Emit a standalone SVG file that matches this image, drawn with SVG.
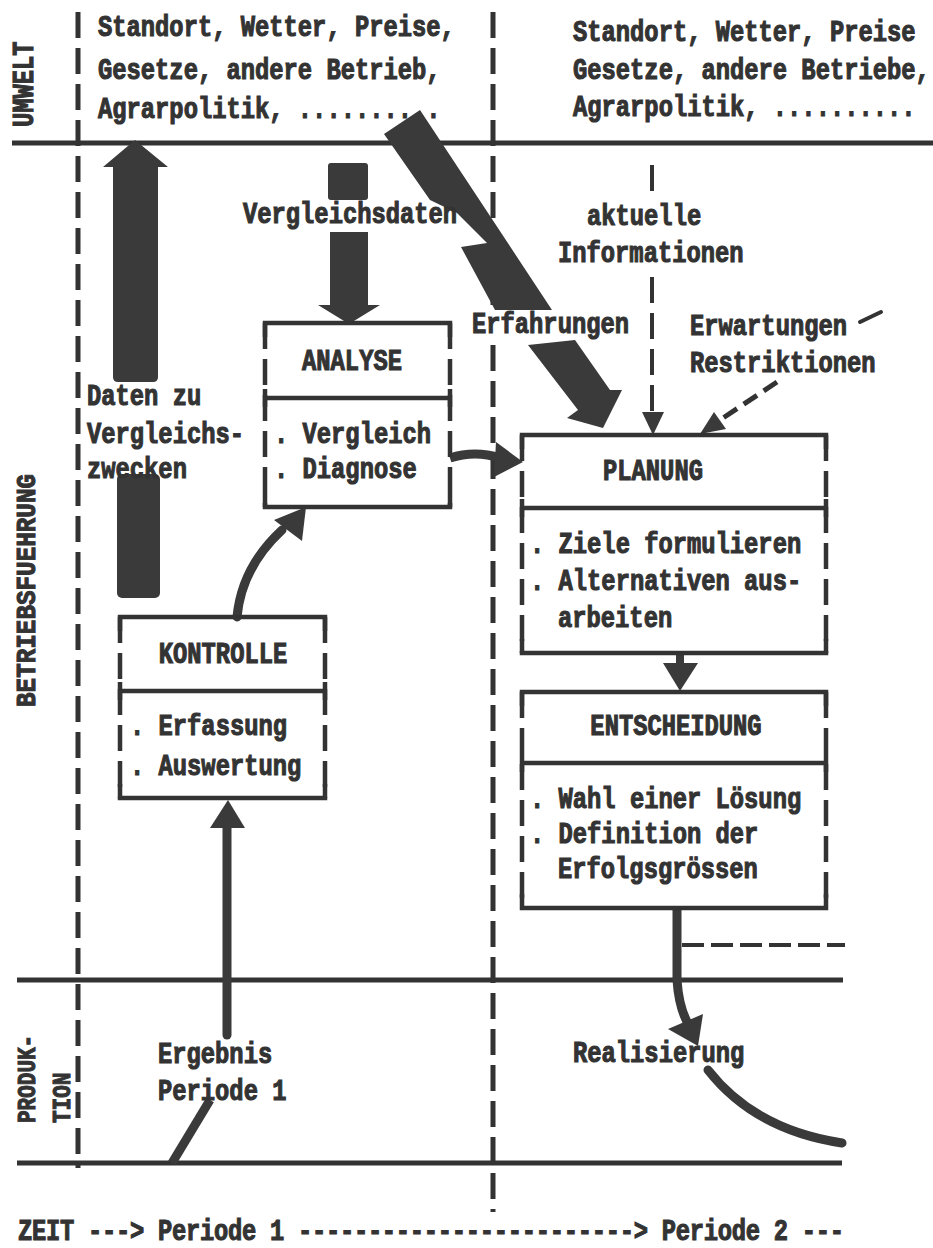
<svg xmlns="http://www.w3.org/2000/svg" width="933" height="1248" viewBox="0 0 933 1248">
<style>
.t,.r{font-family:"Liberation Mono","Courier New",monospace;font-weight:bold;font-size:23.8px;fill:#333;stroke:#333;stroke-width:0.9px}
.t{transform-box:fill-box;transform-origin:0 73%;transform:scaleY(1.22)}
.m{text-anchor:middle}
.ln{fill:none;stroke:#333;stroke-width:5}
.bx{fill:none;stroke:#333;stroke-width:4.5}
.ds{fill:none;stroke:#333;stroke-width:5;stroke-dasharray:26 10}
.bd{fill:none;stroke:#333;stroke-width:4.5;stroke-dasharray:26 10}
.fat{fill:#3a3a3a}
.cv{fill:none;stroke:#3a3a3a;stroke-width:9;stroke-linecap:round}
.hd{fill:#3a3a3a}
</style>
<rect width="933" height="1248" fill="#fff"/>
<g id="frame">
<path class="ln" d="M12,143H933M17,980H843M17,1163H842"/>
<path class="ds" d="M78,12V1168"/>
<path class="ds" d="M493,12V305M493,345V1212"/>
</g>
<g id="side-labels">
<text class="r" transform="translate(33,127) rotate(-90) scale(1,1.25)">UMWELT</text>
<text class="r" transform="translate(35,707) rotate(-90) scale(1.02,1.2)">BETRIEBSFUEHRUNG</text>
<text class="r" style="font-size:21px" transform="translate(35,1123) rotate(-90) scale(1,1.2)">PRODUK-</text>
<text class="r" style="font-size:21px" transform="translate(70,1123) rotate(-90) scale(1,1.2)">TION</text>
</g>
<g id="umwelt-1">
<text class="t" x="98" y="36">Standort, Wetter, Preise,</text>
<text class="t" x="98" y="79">Gesetze, andere Betrieb,</text>
<text class="t" x="98" y="118">Agrarpolitik, ..........</text>
</g>
<g id="umwelt-2">
<text class="t" x="573" y="41">Standort, Wetter, Preise</text>
<text class="t" x="573" y="79">Gesetze, andere Betriebe,</text>
<text class="t" x="573" y="116">Agrarpolitik, ..........</text>
</g>
<g id="connectors">
<path class="fat" d="M135,140L168,167L158,167L158,377Q158,382 153,382L118,382Q113,382 113,377L113,167L103,167Z"/>
<rect class="fat" x="117" y="474" width="43" height="124" rx="5"/>
<rect class="fat" x="328" y="163" width="40" height="37" rx="3"/>
<path class="fat" d="M330,232H368V305H380L349,324L318,305H330Z"/>
<path class="fat" d="M384,134L420,110L552,310L495,310L461,247L487,243L457,213L430,200Z"/>
<path class="fat" d="M528,345L575,340L610,390L622,390L603,428L567,418L578,410Z"/>
<path class="ds" style="stroke-width:4" d="M652,165V195M652,277V412"/>
<path class="hd" d="M642,412H664L653,435Z"/>
<path class="ln" style="stroke-width:4;stroke-linecap:round" d="M860,322L881,312"/>
<path class="ln" style="stroke-dasharray:16 8" d="M777,382L720,420"/>
<path class="hd" d="M700,434L714,412L726,429Z"/>
<path class="cv" style="stroke-linecap:butt" d="M450,458Q475,450 500,458"/>
<path class="hd" d="M496,442L523,462L494,477Z"/>
<path class="cv" d="M237,617C240,585 255,555 282,530"/>
<path class="hd" d="M306,507L302,541L274,520Z"/>
<path class="cv" d="M227,1035V826"/>
<path class="hd" d="M210,828H245L228,800Z"/>
<path class="cv" style="stroke-linecap:butt" d="M172,1163Q189,1135 210,1100"/>
<rect class="hd" x="676" y="653" width="8" height="11"/>
<path class="hd" d="M663,663H698L680,691Z"/>
<path class="cv" style="stroke-linecap:butt" d="M677,908V980Q679,1010 690,1027"/>
<path class="hd" d="M698,1046L668,1029L703,1014Z"/>
<path class="ds" style="stroke-width:4;stroke-dasharray:22 7" d="M682,945H845"/>
<path class="cv" d="M708,1070Q755,1130 842,1143"/>
</g>
<g id="labels">
<text class="t" x="243" y="223">Vergleichsdaten</text>
<text class="t" x="87" y="405">Daten zu</text>
<text class="t" x="87" y="443">Vergleichs-</text>
<text class="t" x="87" y="478">zwecken</text>
<text class="t" x="472" y="333">Erfahrungen</text>
<text class="t" x="587" y="225">aktuelle</text>
<text class="t" x="558" y="262">Informationen</text>
<text class="t" x="690" y="335">Erwartungen</text>
<text class="t" x="690" y="372">Restriktionen</text>
<text class="t" x="158" y="1063">Ergebnis</text>
<text class="t" x="158" y="1100">Periode 1</text>
<text class="t" x="573" y="1062">Realisierung</text>
<text class="t" x="18" y="1240" textLength="826">ZEIT ---&gt; Periode 1 ------------------------&gt; Periode 2 ---</text>
</g>
<g id="analyse">
<path class="bx" d="M265,337V323H450V337M265,493V507H450V493M265,398H450M265,389V407M450,389V407"/>
<path class="bd" d="M265,323V507M450,323V507"/>
<text class="t m" x="352" y="370">ANALYSE</text>
<text class="t" x="274" y="443">. Vergleich</text>
<text class="t" x="274" y="478">. Diagnose</text>
</g>
<g id="kontrolle">
<path class="bx" d="M120,631V617H325V631M120,784V798H325V784M120,691H325M120,682V700M325,682V700"/>
<path class="bd" d="M120,617V798M325,617V798"/>
<text class="t m" x="223" y="663">KONTROLLE</text>
<text class="t" x="130" y="735">. Erfassung</text>
<text class="t" x="130" y="775">. Auswertung</text>
</g>
<g id="planung">
<path class="bx" d="M522,449V435H826V449M522,639V653H826V639M522,508H826M522,499V517M826,499V517"/>
<path class="bd" d="M522,435V653M826,435V653"/>
<text class="t m" x="653" y="480">PLANUNG</text>
<text class="t" x="530" y="553">. Ziele formulieren</text>
<text class="t" x="530" y="590">. Alternativen aus-</text>
<text class="t" x="558" y="627">arbeiten</text>
</g>
<g id="entscheidung">
<path class="bx" d="M522,706V692H826V706M522,894V908H826V894M522,763H826M522,754V772M826,754V772"/>
<path class="bd" d="M522,692V908M826,692V908"/>
<text class="t m" x="676" y="735">ENTSCHEIDUNG</text>
<text class="t" x="530" y="808">. Wahl einer Lösung</text>
<text class="t" x="530" y="843">. Definition der</text>
<text class="t" x="558" y="878">Erfolgsgrössen</text>
</g>
</svg>
